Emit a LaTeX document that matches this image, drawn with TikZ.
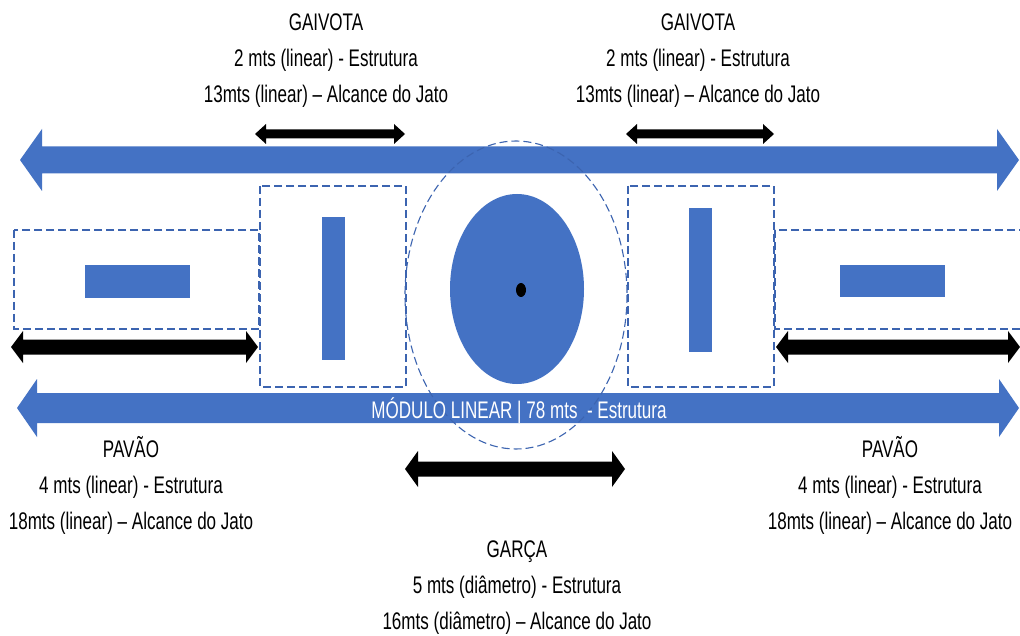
\documentclass[tikz,border=0pt]{standalone}
\usepackage{fontspec}
\setmainfont[FakeStretch=0.71]{Liberation Sans}
\definecolor{obl}{HTML}{4472C4}
\definecolor{dbl}{HTML}{3C64B0}
\begin{document}
\begin{tikzpicture}[x=1pt,y=-1pt,
  lbl/.style={anchor=base,inner sep=0pt,font=\fontsize{24}{28}\selectfont},
  dbox/.style={draw=dbl,line width=1.3pt,dash pattern=on 8pt off 4pt}]
\newcommand{\barrow}[7]{%
  \fill[#1] (#2,#4) -- (#2+#7,#4-#6) -- (#2+#7,#4-#5) -- (#3-#7,#4-#5) -- (#3-#7,#4-#6) -- (#3,#4) -- (#3-#7,#4+#6) -- (#3-#7,#4+#5) -- (#2+#7,#4+#5) -- (#2+#7,#4+#6) -- cycle;}
\useasboundingbox (0,0) rectangle (1020,636);
\fill[white] (0,0) rectangle (1020,636);
% blue bars
\barrow{obl}{20}{1019}{160}{13.5}{31}{22}
\barrow{obl}{17}{1019}{408}{15}{29}{20}
% dashed boxes
\draw[dbox] (14,230) rectangle (259,329);
\draw[dbox] (260,186) rectangle (406,387);
\draw[dbox] (628,186) rectangle (774,387);
\draw[dbox] (775,230) rectangle (1024,329);
\draw[dbox,line width=1.1pt] (516,295) ellipse [x radius=111, y radius=154];
% filled shapes
\fill[obl] (85,265) rectangle (190,298);
\fill[obl] (322,217) rectangle (345,360);
\fill[obl] (689,208) rectangle (712,352);
\fill[obl] (840,265) rectangle (945,297);
\fill[obl] (517,289) ellipse [x radius=67, y radius=95];
\fill[black] (521,290) ellipse [x radius=5, y radius=7];
% black arrows
\barrow{black}{255}{405}{134}{4.5}{10}{11}
\barrow{black}{626}{774}{134}{4.5}{10}{11}
\barrow{black}{11}{258}{347}{7.5}{16}{12}
\barrow{black}{776}{1020}{347}{7.5}{16}{12}
\barrow{black}{405}{625}{469}{7.5}{18}{13}
% texts
\node[lbl] (g1a) at (326,31) {GAIVOTA};
\node[lbl] (g1b) at (326,67) {2 mts (linear) - Estrutura};
\node[lbl] (g1c) at (326,103) {13mts (linear) – Alcance do Jato};
\node[lbl] (g2a) at (698,31) {GAIVOTA};
\node[lbl] (g2b) at (698,67) {2 mts (linear) - Estrutura};
\node[lbl] (g2c) at (698,103) {13mts (linear) – Alcance do Jato};
\node[lbl] (p1a) at (131,457) {PAVÃO};
\node[lbl] (p1b) at (131,493) {4 mts (linear) - Estrutura};
\node[lbl] (p1c) at (131,529) {18mts (linear) – Alcance do Jato};
\node[lbl] (p2a) at (890,457) {PAVÃO};
\node[lbl] (p2b) at (890,493) {4 mts (linear) - Estrutura};
\node[lbl] (p2c) at (890,529) {18mts (linear) – Alcance do Jato};
\node[lbl] (ga) at (517,557) {GARÇA};
\node[lbl] (gb) at (517,593) {5 mts (diâmetro) - Estrutura};
\node[lbl] (gc) at (517,629) {16mts (diâmetro) – Alcance do Jato};
\node[lbl,text=white] (mod) at (519,418) {MÓDULO LINEAR | 78 mts\ \ - Estrutura};
\end{tikzpicture}
\end{document}
